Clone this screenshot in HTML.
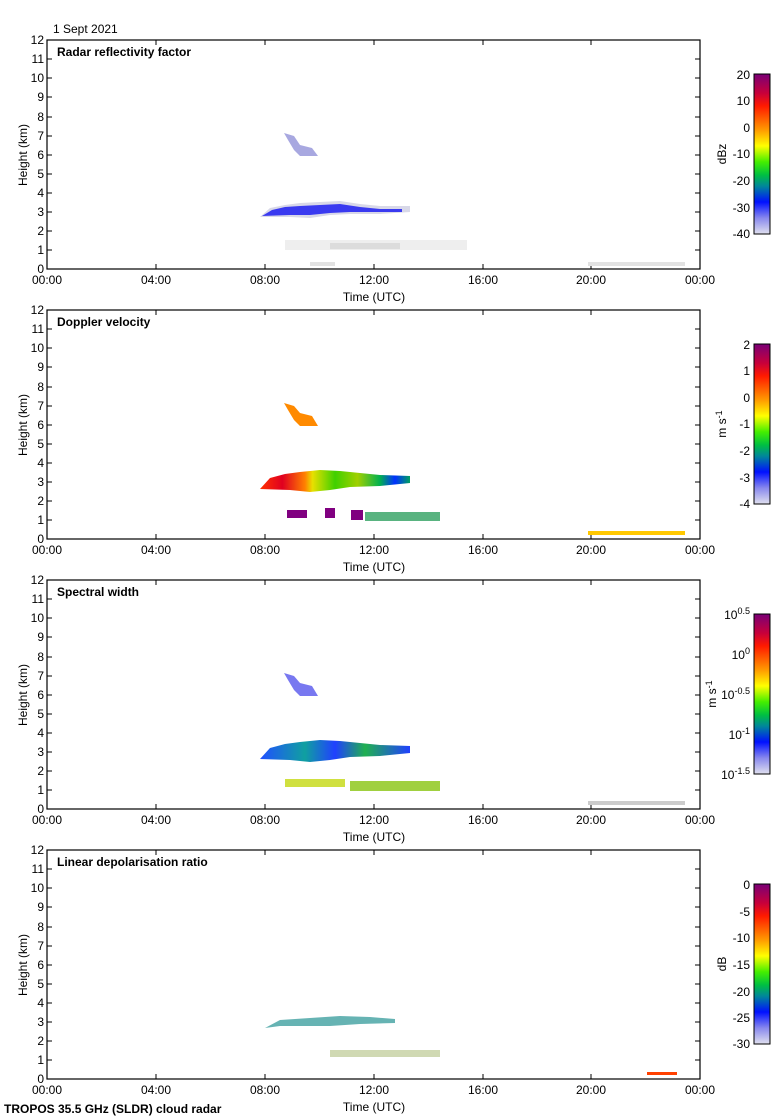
<!DOCTYPE html>
<html><head><meta charset="utf-8"><style>
body{margin:0;background:#fff}
svg{display:block;font-family:"Liberation Sans",sans-serif}
</style></head><body>
<svg width="780" height="1120" viewBox="0 0 780 1120">
<defs>
<linearGradient id="cb1" x1="0" y1="0" x2="0" y2="1">
<stop offset="0" stop-color="#7a0077"/><stop offset="0.12" stop-color="#c8003a"/><stop offset="0.2" stop-color="#ff1a00"/><stop offset="0.35" stop-color="#ff9a00"/><stop offset="0.45" stop-color="#ffff00"/><stop offset="0.55" stop-color="#44ee00"/><stop offset="0.63" stop-color="#00c040"/><stop offset="0.7" stop-color="#008899"/><stop offset="0.8" stop-color="#0010ff"/><stop offset="0.9" stop-color="#8888ee"/><stop offset="1" stop-color="#e0e0ee"/>
</linearGradient>
<linearGradient id="g2" x1="0" x2="1" y1="0" y2="0">
<stop offset="0" stop-color="#ff3000"/><stop offset="0.15" stop-color="#e00020"/><stop offset="0.3" stop-color="#ff8000"/><stop offset="0.35" stop-color="#e8e000"/><stop offset="0.5" stop-color="#40d000"/><stop offset="0.65" stop-color="#a0d000"/><stop offset="0.8" stop-color="#00b050"/><stop offset="0.9" stop-color="#0030ff"/><stop offset="1" stop-color="#00a060"/>
</linearGradient>
<linearGradient id="g3" x1="0" x2="1" y1="0" y2="0">
<stop offset="0" stop-color="#2050ff"/><stop offset="0.3" stop-color="#10a0a0"/><stop offset="0.5" stop-color="#2040ff"/><stop offset="0.7" stop-color="#20b050"/><stop offset="1" stop-color="#2040ff"/>
</linearGradient>
</defs>
<text x="53" y="33" font-size="12">1 Sept 2021</text>
<text x="4" y="1113" font-size="12" font-weight="bold">TROPOS 35.5 GHz (SLDR) cloud radar</text>

<g id="p0">
<rect x="47" y="40" width="653" height="229" fill="none" stroke="#000" stroke-width="1.2"/>
<g font-size="12" text-anchor="end">
<text x="44" y="273">0</text><text x="44" y="254">1</text><text x="44" y="235">2</text><text x="44" y="216">3</text><text x="44" y="197">4</text><text x="44" y="178">5</text><text x="44" y="159">6</text><text x="44" y="140">7</text><text x="44" y="121">8</text><text x="44" y="101">9</text><text x="44" y="82">10</text><text x="44" y="63">11</text><text x="44" y="44">12</text>
</g>
<path d="M47 250h5M47 231h5M47 212h5M47 193h5M47 174h5M47 155h5M47 136h5M47 117h5M47 97h5M47 78h5M47 59h5M700 250h-5M700 231h-5M700 212h-5M700 193h-5M700 174h-5M700 155h-5M700 136h-5M700 117h-5M700 97h-5M700 78h-5M700 59h-5M156 269v-5M265 269v-5M374 269v-5M483 269v-5M591 269v-5M156 40v5M265 40v5M374 40v5M483 40v5M591 40v5" stroke="#000" stroke-width="1"/>
<g font-size="12" text-anchor="middle">
<text x="47" y="284">00:00</text><text x="156" y="284">04:00</text><text x="265" y="284">08:00</text><text x="374" y="284">12:00</text><text x="483" y="284">16:00</text><text x="591" y="284">20:00</text><text x="700" y="284">00:00</text>
<text x="374" y="301">Time (UTC)</text>
</g>
<text x="27" y="155" font-size="12" text-anchor="middle" transform="rotate(-90 27 155)">Height (km)</text>
<rect x="754" y="74" width="16" height="160" fill="url(#cb1)" stroke="#000"/>
</g>
<use href="#p0" y="270"/>
<use href="#p0" y="540"/>
<use href="#p0" y="810"/>

<g font-size="12" font-weight="bold">
<text x="57" y="56">Radar reflectivity factor</text>
<text x="57" y="326">Doppler velocity</text>
<text x="57" y="596">Spectral width</text>
<text x="57" y="866">Linear depolarisation ratio</text>
</g>
<g font-size="12" text-anchor="end">
<text x="750" y="79">20</text><text x="750" y="105">10</text><text x="750" y="132">0</text><text x="750" y="158">-10</text><text x="750" y="185">-20</text><text x="750" y="212">-30</text><text x="750" y="238">-40</text>
<text x="750" y="349">2</text><text x="750" y="375">1</text><text x="750" y="402">0</text><text x="750" y="428">-1</text><text x="750" y="455">-2</text><text x="750" y="482">-3</text><text x="750" y="508">-4</text>
<text x="750" y="619">10<tspan font-size="9" dy="-5">0.5</tspan></text>
<text x="750" y="659">10<tspan font-size="9" dy="-5">0</tspan></text>
<text x="750" y="699">10<tspan font-size="9" dy="-5">-0.5</tspan></text>
<text x="750" y="739">10<tspan font-size="9" dy="-5">-1</tspan></text>
<text x="750" y="779">10<tspan font-size="9" dy="-5">-1.5</tspan></text>
<text x="750" y="889">0</text><text x="750" y="916">-5</text><text x="750" y="942">-10</text><text x="750" y="969">-15</text><text x="750" y="996">-20</text><text x="750" y="1022">-25</text><text x="750" y="1048">-30</text>
</g>
<g font-size="12" text-anchor="middle">
<text x="726" y="154" transform="rotate(-90 726 154)">dBz</text>
<text x="726" y="424" transform="rotate(-90 726 424)">m s<tspan font-size="9" dy="-4">-1</tspan></text>
<text x="716" y="694" transform="rotate(-90 716 694)">m s<tspan font-size="9" dy="-4">-1</tspan></text>
<text x="726" y="964" transform="rotate(-90 726 964)">dB</text>
</g>

<!-- Panel 1 data -->
<polygon points="260,217 270,208 285,205 300,203 320,202 340,201 360,204 380,206 410,206 410,212 380,214 350,214 330,215 310,218 290,217" fill="#d8d8e8"/>
<polygon points="262,216 272,210 285,207 300,206 320,205 340,204 360,207 380,209 402,209 402,212 380,212 350,212 330,213 310,215 290,215" fill="#3a3af0"/>
<polygon points="284,133 294,136 300,145 312,148 318,156 300,156 294,150 288,140" fill="#a8a8e0"/>
<rect x="285" y="240" width="182" height="10" fill="#eeeeee"/>
<rect x="330" y="243" width="70" height="6" fill="#dcdcdc"/>
<rect x="310" y="262" width="25" height="4" fill="#e2e2e2"/>
<rect x="588" y="262" width="97" height="4" fill="#e2e2e2"/>
<!-- Panel 2 data -->
<polygon points="260,489 270,478 285,474 300,472 320,470 340,471 360,473 380,475 410,476 410,483 380,486 350,487 330,490 310,492 290,490" fill="url(#g2)"/>
<polygon points="284,403 294,406 300,413 312,416 318,426 300,426 294,420 288,410" fill="#ff8a00"/>
<g fill="#800080"><rect x="287" y="510" width="20" height="8"/><rect x="325" y="508" width="10" height="10"/><rect x="351" y="510" width="12" height="10"/></g>
<rect x="365" y="512" width="75" height="9" fill="#30a060" opacity="0.8"/>
<rect x="588" y="531" width="97" height="4" fill="#ffc800"/>
<!-- Panel 3 data -->
<polygon points="260,759 270,748 285,744 300,742 320,740 340,741 360,743 380,745 410,746 410,753 380,756 350,757 330,760 310,762 290,760" fill="url(#g3)"/>
<polygon points="284,673 294,676 300,683 312,686 318,696 300,696 294,690 288,680" fill="#7878f0"/>
<rect x="285" y="779" width="60" height="8" fill="#d0e040"/>
<rect x="350" y="781" width="90" height="10" fill="#a0d040"/>
<rect x="588" y="801" width="97" height="4" fill="#ccc"/>
<!-- Panel 4 data -->
<polygon points="265,1028 280,1020 310,1018 340,1016 370,1017 395,1019 395,1023 360,1024 330,1026 300,1026 280,1026" fill="#40a0a0" opacity="0.8"/>
<rect x="330" y="1050" width="110" height="7" fill="#b0c080" opacity="0.6"/>
<rect x="647" y="1072" width="30" height="3" fill="#ff4000"/>
</svg>
</body></html>
